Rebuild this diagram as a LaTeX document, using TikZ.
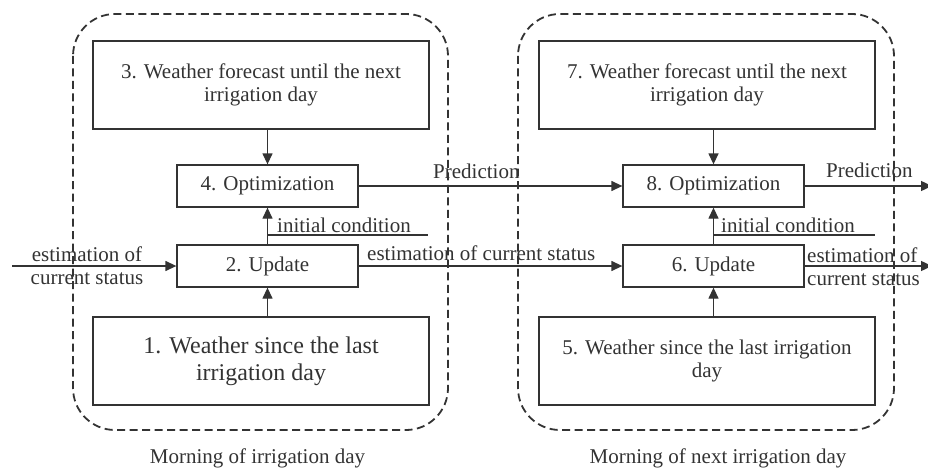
\documentclass[tikz,border=0pt]{standalone}
\usepackage{fontspec}
\setmainfont{Liberation Serif}
\usetikzlibrary{arrows.meta,calc}
\definecolor{ink}{gray}{0.2}
\begin{document}
\begin{tikzpicture}[x=1pt,y=-1pt,
  every node/.style={text=ink, font=\fontsize{21}{23}\selectfont},
  bigbox/.style={draw=ink, line width=1.3pt, minimum width=336pt, minimum height=88pt, align=center, inner sep=0pt},
  smallbox/.style={draw=ink, line width=1.3pt, minimum width=181pt, minimum height=42pt, inner sep=0pt},
  groupbox/.style={draw=ink, line width=1.8pt, dash pattern=on 8pt off 4.5pt, rounded corners=42pt},
  conn/.style={draw=ink, line width=1.3pt, -{Triangle[length=11pt,width=10pt]}},
  plainline/.style={draw=ink, line width=1.3pt},
  lbl/.style={inner sep=0pt, anchor=base west}
]
\useasboundingbox (0,0) rectangle (928,468);

% groups
\draw[groupbox] (73,14) rectangle (448,430);
\draw[groupbox] (518,14) rectangle (894,430);

% left group
\node[bigbox] (b3) at (261,85) {3. Weather forecast until the next\\irrigation day};
\node[smallbox] (b4) at (267.5,186) {4. Optimization};
\node[smallbox] (b2) at (267.5,266) {2. Update};
\node[bigbox, font=\fontsize{24}{27}\selectfont] (b1) at (261,361) {1. Weather since the last\\irrigation day};

% right group
\node[bigbox] (b7) at (707,85) {7. Weather forecast until the next\\irrigation day};
\node[smallbox] (b8) at (713.5,186) {8. Optimization};
\node[smallbox] (b6) at (713.5,266) {6. Update};
\node[bigbox] (b5) at (707,361) {5. Weather since the last irrigation\\day};

% vertical connectors
\draw[conn] (b3.south -| b4.north) -- (b4.north);
\draw[conn] (b1.north -| b2.south) -- (b2.south);
\draw[conn] (b2.north) -- (b4.south);
\draw[conn] (b7.south -| b8.north) -- (b8.north);
\draw[conn] (b5.north -| b6.south) -- (b6.south);
\draw[conn] (b6.north) -- (b8.south);

% initial condition lines
\coordinate (ic1) at (428,235);
\draw[plainline] (b2.north |- ic1) -- (ic1);
\node[lbl] (tic1) at (277,232) {initial condition};
\coordinate (ic2) at (875,235);
\draw[plainline] (b6.north |- ic2) -- (ic2);
\node[lbl] (tic2) at (721,232) {initial condition};

% horizontal connectors
\coordinate (in1) at (12,266);
\draw[conn] (in1) -- (b2.west);
\node[align=center, inner sep=0pt] (tin) at (87,266) {estimation of\\current status};

\draw[conn] (b2.east) -- (b6.west);
\node[lbl] (tmid) at (367,260) {estimation of current status};

\draw[conn] (b4.east) -- (b8.west);
\node[lbl] (tp1) at (433,178) {Prediction};

\coordinate (out1) at (932,186);
\draw[conn] (b8.east) -- (out1);
\node[lbl] (tp2) at (826,177) {Prediction};

\coordinate (out2) at (932,266);
\draw[conn] (b6.east) -- (out2);
\node[align=left, inner sep=0pt, anchor=west] (tout) at (807,267) {estimation of\\current status};

% captions
\node[anchor=base] (cap1) at (257.5,463) {Morning of irrigation day};
\node[anchor=base] (cap2) at (718,463) {Morning of next irrigation day};
\end{tikzpicture}
\end{document}
